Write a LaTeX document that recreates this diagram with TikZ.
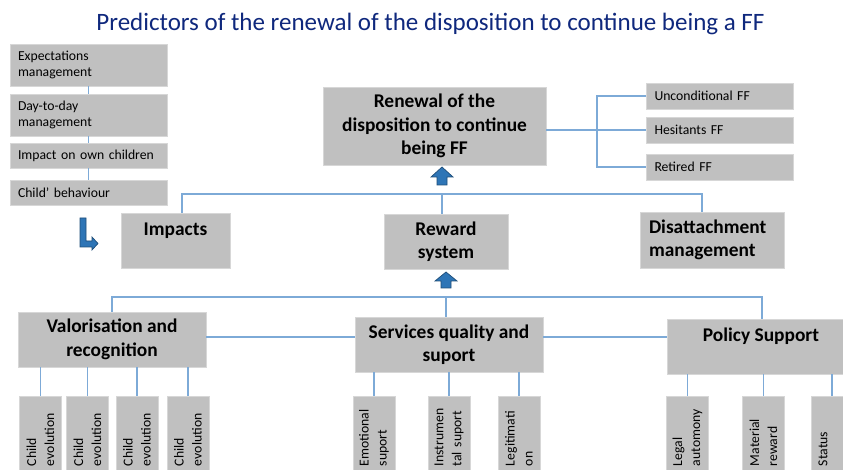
\documentclass[tikz,border=0pt]{standalone}
\usepackage{fontspec}
\setmainfont{Carlito}
\definecolor{boxgray}{RGB}{192,192,192}
\definecolor{boxedge}{RGB}{215,215,215}
\definecolor{linecolor}{RGB}{125,170,215}
\definecolor{arrowfill}{RGB}{46,117,182}
\definecolor{arrowedge}{RGB}{31,78,121}
\definecolor{titleblue}{RGB}{15,40,125}
\begin{document}
\begin{tikzpicture}[x=1pt,y=-1pt,
  gbox/.style={fill=boxgray, draw=boxedge, line width=0.8pt, inner sep=0pt, align=center},
  bigbox/.style={gbox, font=\fontsize{19.4}{23.5}\selectfont\bfseries},
  listbox/.style={gbox, font=\fontsize{13.7}{16}\selectfont, text width=141pt, inner xsep=8pt, align=left},
  ffbox/.style={gbox, font=\fontsize{13.7}{16}\selectfont, text width=131pt, inner xsep=8pt, align=left, minimum height=26pt},
  vbox/.style={gbox, rotate=90, font=\fontsize{13.7}{18}\selectfont, text width=62pt, inner xsep=8pt, align=left, minimum height=42pt},
  conn/.style={draw=linecolor, line width=1.1pt},
  blockarrow/.style={fill=arrowfill, draw=arrowedge, line width=0.7pt, line join=miter}
]
\useasboundingbox (0,0) rectangle (843,470);
\clip (0,0) rectangle (843,470);
\fill[white] (0,0) rectangle (843,470);

% title
\node[anchor=base, font=\fontsize{25}{29}\selectfont, text=titleblue, inner sep=0pt] (title) at (430.5,31)
  {Predictors of the renewal of the disposition to continue being a FF};

% left list
\node[listbox, minimum height=42pt] (e1) at (88.5,65) {Expectations\\management};
\node[listbox, minimum height=42pt] (e2) at (88.5,115) {Day-to-day\\management};
\node[listbox, minimum height=25pt] (e3) at (88.5,155.5) {Impact on own children};
\node[listbox, minimum height=25pt] (e4) at (88.5,192.5) {Child’ behaviour};
\draw[conn] (e1.south) -- (e2.north);
\draw[conn] (e2.south) -- (e3.north);
\draw[conn] (e3.south) -- (e4.north);

% bent arrow
\path[blockarrow] (80,218) -- (86,218) -- (86,241) -- (92,241) -- (92,237) -- (98,243.5)
  -- (92,250) -- (92,247) -- (80,247) -- cycle;

% top box
\node[bigbox, minimum width=223pt, minimum height=78pt] (renew) at (434.5,126)
  {Renewal of the\\disposition to continue\\being FF};

% FF types
\node[ffbox] (u1) at (720,96) {Unconditional FF};
\node[ffbox] (u2) at (720,130) {Hesitants FF};
\node[ffbox] (u3) at (720,167) {Retired FF};
\coordinate (br) at (597,130);
\draw[conn] (renew.east |- u2.west) -- (u2.west);
\draw[conn] (u1.west) -| (br) |- (u3.west);

% up arrow to renew
\path[blockarrow] (442,167) -- (453,177) -- (447,177) -- (447,185) -- (437,185) -- (437,177) -- (431,177) -- cycle;

% second level
\node[bigbox, minimum width=109pt, minimum height=55pt] (imp) at (175.5,240.5) {Impacts\\[0pt]\phantom{I}};
\node[bigbox, minimum width=124pt, minimum height=55pt] (rew) at (446,241.5) {Reward\\system};
\node[bigbox, text width=126pt, inner xsep=9pt, align=left, minimum height=56pt] (dis) at (712,240)
  {Disattachment\\management};

\coordinate (topbus) at (442,194);
\draw[conn] ([xshift=6.5pt]imp.north) |- (topbus) -| ([xshift=-10pt]dis.north);
\draw[conn] (topbus) -- (rew.north -| topbus);

% up arrow to reward
\path[blockarrow] (446,272) -- (457,281) -- (451,281) -- (451,288) -- (441,288) -- (441,281) -- (435,281) -- cycle;

% third level
\node[bigbox, minimum width=188pt, minimum height=55pt] (val) at (112,339.5) {Valorisation and\\recognition};
\node[bigbox, minimum width=188pt, minimum height=55pt] (serv) at (449,344.5) {Services quality and\\suport};
\node[bigbox, minimum width=188pt, minimum height=55pt] (pol) at (761,346.5) {Policy Support\\[0pt]\phantom{P}};

\coordinate (botbus) at (446,297);
\draw[conn] (val.north) |- (botbus) -| ([xshift=1pt]pol.north);
\draw[conn] (botbus) -- (serv.north -| botbus);
\coordinate (midline) at (0,337);
\draw[conn] (val.east |- midline) -- (serv.west |- midline);
\draw[conn] (serv.east |- midline) -- (pol.west |- midline);

% children of valorisation
\node[vbox] (v1) at (40.5,435) {Child\\evolution};
\node[vbox] (v2) at (87.5,435) {Child\\evolution};
\node[vbox] (v3) at (137,435) {Child\\evolution};
\node[vbox] (v4) at (188,435) {Child\\evolution};
\foreach \c in {v1,v2,v3,v4} \draw[conn] (\c.east) -- (\c.east |- val.south);

% children of services
\node[vbox] (s1) at (374,435) {Emotional\\suport};
\node[vbox] (s2) at (449,435) {Instrumen\\tal suport};
\node[vbox] (s3) at (519,435) {Legitimati\\on};
\foreach \c in {s1,s2,s3} \draw[conn] (\c.east) -- (\c.east |- serv.south);

% children of policy
\node[vbox] (p1) at (687.5,435) {Legal\\automony};
\node[vbox] (p2) at (763.5,435) {Material\\reward};
\node[vbox] (p3) at (832,435) {Status\\~};
\foreach \c in {p1,p2,p3} \draw[conn] (\c.east) -- (\c.east |- pol.south);
\end{tikzpicture}
\end{document}
